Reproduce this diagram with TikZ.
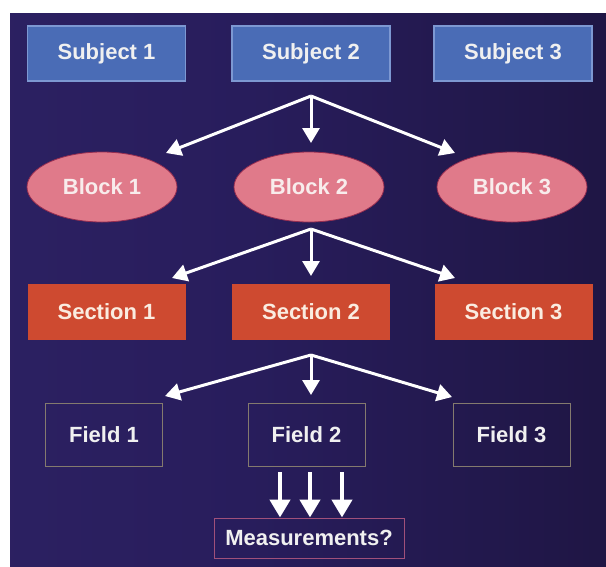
\documentclass[tikz,border=0pt]{standalone}
\usepackage{fontspec}
\setmainfont{Liberation Sans}
\usetikzlibrary{shapes.geometric,arrows.meta}
\definecolor{bgA}{RGB}{48,36,104}
\definecolor{bgB}{RGB}{40,29,92}
\definecolor{bgC}{RGB}{30,21,66}
\definecolor{bgD}{RGB}{16,10,28}
\definecolor{subjfill}{RGB}{74,108,182}
\definecolor{subjdraw}{RGB}{125,152,210}
\definecolor{blockfill}{RGB}{224,122,138}
\definecolor{blockdraw}{RGB}{150,45,80}
\definecolor{blocktext}{RGB}{248,236,236}
\definecolor{secfill}{RGB}{206,74,48}
\definecolor{sectext}{RGB}{250,236,224}
\definecolor{fielddraw}{RGB}{132,122,110}
\definecolor{measdraw}{RGB}{160,80,122}
\definecolor{txt}{RGB}{240,240,240}
\pgfdeclarehorizontalshading{bgshade}{100bp}{color(0bp)=(bgA); color(45bp)=(bgB); color(78bp)=(bgC); color(100bp)=(bgD)}
\tikzset{
  lbl/.style={font=\fontsize{22}{26}\selectfont\bfseries, text=txt, inner sep=0pt},
  subj/.style={lbl, rectangle, fill=subjfill, draw=subjdraw, line width=1.2pt, minimum width=158pt, minimum height=55pt},
  blk/.style={lbl, ellipse, fill=blockfill, draw=blockdraw, line width=0.8pt, text=blocktext, minimum width=150pt, minimum height=70pt},
  sec/.style={lbl, rectangle, fill=secfill, text=sectext, minimum width=158pt, minimum height=56pt},
  fld/.style={lbl, rectangle, draw=fielddraw, line width=1pt, minimum width=117pt, minimum height=63pt},
  meas/.style={lbl, rectangle, draw=measdraw, line width=1pt, minimum width=190pt, minimum height=40pt},
  arr/.style={draw=white, line width=3pt, -{Triangle[width=17pt,length=15pt]}},
  barr/.style={draw=white, line width=4.5pt, -{Triangle[width=20pt,length=18pt]}}
}
\begin{document}
\begin{tikzpicture}[x=1pt,y=-1pt]
\useasboundingbox (0,0) rectangle (606,566);
\fill[white] (0,0) rectangle (606,566);
\shade[shading=bgshade] (10,13) rectangle (606,566);
% subjects
\node[subj] (s1) at (106.5,53.5) {Subject 1};
\node[subj] (s2) at (311,53.5) {Subject 2};
\node[subj] (s3) at (513,53.5) {Subject 3};
% blocks
\node[blk] (b1) at (102,187) {Block 1};
\node[blk] (b2) at (309,187) {Block 2};
\node[blk] (b3) at (512,187) {Block 3};
% sections
\node[sec] (c1) at (106.5,312) {Section 1};
\node[sec] (c2) at (311,312) {Section 2};
\node[sec] (c3) at (513.5,312) {Section 3};
% fields
\node[fld] (f1) at (104,434.5) {Field 1};
\node[fld] (f2) at (306.5,434.5) {Field 2};
\node[fld] (f3) at (511.5,434.5) {Field 3};
% measurements
\node[meas] (m) at (309,538) {Measurements?};
% arrow coordinates
\coordinate (a1) at (311,96);
\coordinate (t1l) at (166,153);
\coordinate (t1c) at (311,143);
\coordinate (t1r) at (455,153);
\coordinate (a2) at (311,229);
\coordinate (t2l) at (172,278);
\coordinate (t2c) at (311,276);
\coordinate (t2r) at (455,278);
\coordinate (a3) at (311,355);
\coordinate (t3l) at (165,396);
\coordinate (t3c) at (311,395);
\coordinate (t3r) at (452,397);
\draw[arr] (a1) -- (t1l);
\draw[arr] (a1) -- (t1c);
\draw[arr] (a1) -- (t1r);
\draw[arr] (a2) -- (t2l);
\draw[arr] (a2) -- (t2c);
\draw[arr] (a2) -- (t2r);
\draw[arr] (a3) -- (t3l);
\draw[arr] (a3) -- (t3c);
\draw[arr] (a3) -- (t3r);
% three arrows into measurements
\coordinate (p1) at (280,472);
\coordinate (p2) at (310,472);
\coordinate (p3) at (342,472);
\draw[barr] (p1) -- (p1 |- m.north);
\draw[barr] (p2) -- (p2 |- m.north);
\draw[barr] (p3) -- (p3 |- m.north);
\end{tikzpicture}
\end{document}
